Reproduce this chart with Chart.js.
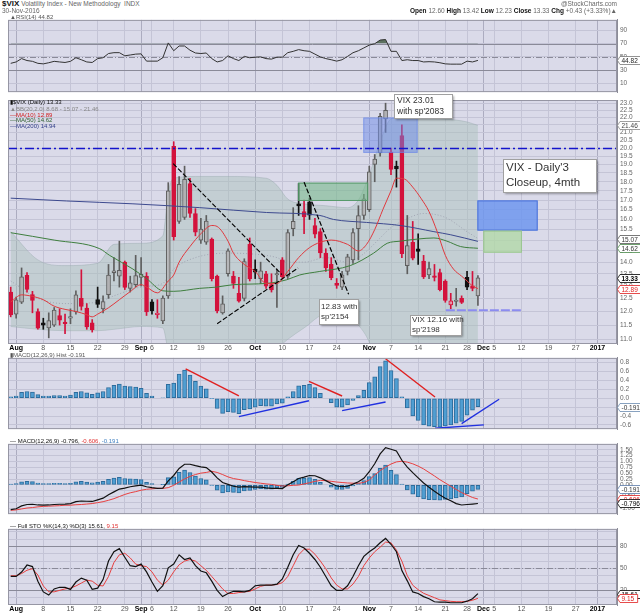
<!DOCTYPE html>
<html>
<head>
<meta charset="utf-8">
<title>$VIX daily</title>
<script src="https://cdn.jsdelivr.net/npm/chart.js@4.4.1/dist/chart.umd.min.js"></script>
<style>
  body { margin: 0; background: #fff; }
  #wrap { position: relative; width: 640px; height: 614px; overflow: hidden; font-family: "Liberation Sans", Arial, sans-serif; }
  canvas { position: absolute; left: 0; }
  .t { position: absolute; font-size: 6.5px; line-height: 7px; color: #666; white-space: nowrap; z-index: 5; }
  .t b { color: #111; }
  .lg { position: absolute; left: 10px; font-size: 6px; line-height: 6px; color: #555; white-space: nowrap; z-index: 5; }
</style>
</head>
<body>
<div id="wrap">
  <canvas id="rsiChart"></canvas>
  <canvas id="histChart"></canvas>
  <canvas id="macdChart"></canvas>
  <canvas id="stoChart"></canvas>
  <canvas id="priceChart"></canvas>

  <div class="t" style="left:2px;top:0px"><b style="font-size:8px">$VIX</b> Volatility Index - New Methodology&nbsp; INDX</div>
  <div class="t" style="left:2px;top:7px">30-Nov-2016</div>
  <div class="t" style="right:23px;top:0px">@StockCharts.com</div>
  <div class="t" style="right:23px;top:7px"><b>Open</b> 12.60 <b>High</b> 13.42 <b>Low</b> 12.23 <b>Close</b> 13.33 <b>Chg</b> +0.43 (+3.33%)&#9650;</div>

  <div class="lg" style="top:14px">&#9650;RSI(14) 44.82</div>
  <div class="lg" style="top:99px;color:#111">&#9646;$VIX (Daily) 13.33</div>
  <div class="lg" style="top:106px;color:#888">&#9650;BB(20,2.0) 8.68 - 15.07 - 21.46</div>
  <div class="lg" style="top:111.5px;color:#d02020">&#8212;MA(10) 12.89</div>
  <div class="lg" style="top:117px;color:#2f5f2f">&#8212;MA(50) 14.62</div>
  <div class="lg" style="top:122.5px;color:#34408a">&#8212;MA(200) 14.94</div>
  <div class="lg" style="top:352px">&#9646;MACD(12,26,9) Hist -0.191</div>
  <div class="lg" style="top:438px"><span style="color:#111">&#8212; MACD(12,26,9) -0.796,</span> <span style="color:#e03030">-0.606,</span> <span style="color:#3f7fc0">-0.191</span></div>
  <div class="lg" style="top:523px"><span style="color:#111">&#8212; Full STO %K(14,3) %D(3) 15.61,</span> <span style="color:#e03030">9.15</span></div>
</div>

<script>
// sessions: index 0 = 29 Jul 2016 ... index 86 = 30 Nov 2016, blank sessions follow
const tickSlots = [1, 6, 11, 16, 21, 24, 26, 30, 35, 40, 45, 50, 55, 60, 66, 70, 75, 80, 84, 87, 89, 94, 99, 104, 108];
const tickLabels = ["Aug", "8", "15", "22", "29", "Sep", "6", "12", "19", "26", "Oct", "10", "17", "24",
  "Nov", "7", "14", "21", "28", "Dec", "5", "12", "19", "27", "2017"];
const monthSlots = [1, 24, 45, 66, 87, 108];

const opens = [12.75, 11.90, 12.35, 13.43, 12.65, 12.00, 11.58, 11.40, 11.50, 11.85,
  11.58, 11.75, 11.98, 12.50, 12.13, 11.58, 12.45, 12.10, 12.65, 13.55,
  13.40, 14.00, 12.90, 13.05, 13.35, 13.40, 12.37, 11.88, 11.65, 12.60,
  20.10, 15.90, 16.10, 17.90, 16.30, 15.00, 14.90, 15.05, 13.40, 11.95,
  13.50, 13.40, 12.70, 12.50, 14.80, 13.70, 13.30, 13.50, 13.05, 13.45,
  14.10, 13.40, 15.55, 16.80, 16.40, 16.90, 15.70, 15.40, 14.40, 13.90,
  13.10, 12.95, 13.60, 14.10, 15.55, 16.20, 16.50, 19.00, 19.70, 21.90,
  19.75, 18.90, 20.80, 13.85, 14.90, 14.60, 14.05, 13.45, 13.40, 13.55,
  13.20, 12.25, 12.38, 12.50, 13.35, 13.00, 12.60];
const highs = [12.95, 12.55, 13.75, 13.55, 12.78, 12.10, 11.75, 11.95, 12.15, 12.10,
  11.90, 12.10, 12.80, 13.67, 12.30, 11.70, 12.95, 12.60, 13.90, 14.20,
  14.95, 14.05, 13.40, 14.30, 14.20, 13.55, 12.45, 12.45, 12.60, 17.95,
  20.40, 18.30, 18.90, 18.20, 16.55, 16.05, 16.20, 15.10, 13.45, 12.60,
  14.60, 13.60, 13.35, 14.15, 15.10, 14.10, 14.00, 13.60, 13.50, 13.70,
  14.20, 15.50, 16.60, 17.90, 17.00, 17.10, 16.05, 15.55, 14.60, 14.20,
  13.30, 13.60, 14.35, 15.55, 16.70, 17.30, 18.90, 19.60, 22.30, 23.01,
  20.00, 19.20, 21.50, 16.20, 15.90, 15.30, 14.30, 14.00, 13.90, 13.70,
  13.25, 12.70, 12.90, 12.60, 13.60, 13.60, 13.42];
const lows = [11.80, 11.75, 12.30, 12.75, 11.95, 11.35, 11.35, 11.05, 11.45, 11.50,
  11.20, 11.55, 11.90, 12.05, 11.35, 11.25, 12.15, 11.95, 12.50, 13.20,
  12.95, 12.85, 12.75, 12.95, 13.00, 11.85, 11.90, 11.75, 11.55, 12.50,
  15.00, 15.80, 16.00, 16.10, 15.20, 14.85, 14.80, 13.20, 11.95, 11.90,
  13.40, 12.90, 12.35, 12.40, 13.20, 13.30, 13.10, 12.90, 12.75, 12.15,
  13.30, 13.30, 15.20, 16.20, 15.30, 16.00, 15.10, 14.20, 13.60, 13.25,
  12.90, 12.85, 13.45, 13.95, 14.10, 16.00, 16.40, 18.00, 19.50, 21.00,
  18.40, 17.70, 14.20, 13.50, 14.10, 13.90, 13.30, 13.30, 13.20, 12.80,
  12.35, 12.10, 12.20, 12.30, 12.85, 12.80, 12.23];
const closes = [11.87, 12.44, 13.37, 12.86, 12.42, 11.39, 11.50, 11.66, 12.05, 11.68,
  11.55, 11.81, 12.64, 12.19, 11.43, 11.34, 12.27, 12.38, 13.45, 13.63,
  13.65, 12.94, 13.12, 13.42, 13.48, 11.98, 12.02, 11.94, 12.51, 17.50,
  15.16, 17.85, 18.14, 16.30, 15.37, 15.53, 15.92, 13.30, 12.02, 12.29,
  14.50, 13.10, 12.39, 14.02, 13.29, 13.57, 13.63, 12.99, 12.84, 13.48,
  13.38, 15.36, 15.91, 16.69, 16.12, 16.21, 15.28, 14.41, 13.75, 13.34,
  13.02, 13.46, 14.24, 15.36, 16.19, 17.06, 18.56, 19.32, 22.08, 22.51,
  18.71, 18.74, 14.38, 14.74, 14.17, 14.48, 13.37, 13.72, 13.35, 12.85,
  12.42, 12.41, 12.43, 12.34, 12.95, 12.90, 13.33];

// overlays (session index, value)
const ma10X = [0, 2, 4, 6, 8, 10, 12, 14, 15, 16, 18, 20, 22, 24, 25, 27, 29, 30, 31, 33, 35, 37, 38, 40, 41, 43, 45, 47, 49, 51,
  53, 55, 57, 59, 62, 64, 65.5, 67, 68.5, 70, 71, 72.5, 74, 75.5, 77, 78.5, 80, 81.5, 83, 84, 85, 86];
const ma10 = [12.36, 12.64, 12.58, 12.45, 12.2, 12.08, 12.0, 11.88, 11.8, 11.9, 12.14, 12.45, 12.77, 13.05, 12.95, 12.72, 13.2, 13.45,
  14.0, 14.7, 15.3, 15.7, 15.65, 14.95, 14.4, 13.9, 13.6, 13.1, 13.1, 13.6, 14.2, 14.65, 14.9, 15.0, 14.8, 14.5, 14.8, 15.5,
  16.5, 17.5, 18.2, 18.15, 17.7, 17.1, 16.4, 15.4, 14.3, 13.7, 13.4, 13.2, 13.0, 12.89];
const ma50X = [0, 8, 16.4, 18.2, 22.5, 25, 28, 30, 34.8, 37.9, 41, 47.1, 50.8, 53.2, 56.9, 62.5, 66.8, 69.3, 71.7, 75, 77.9, 80.3, 82.8, 86];
const ma50 = [15.35, 15.0, 14.6, 14.3, 13.7, 13.3, 12.8, 12.78, 12.9, 12.95, 13.05, 13.1, 13.25, 13.45, 13.6, 13.85, 14.4, 14.85,
  14.95, 15.05, 15.1, 14.95, 14.7, 14.62];
const ma200X = [0, 10.3, 22.5, 34.8, 47.1, 56.9, 59.4, 65.5, 71.7, 77.9, 81, 86];
const ma200 = [17.1, 16.95, 16.8, 16.6, 16.35, 16.2, 16.0, 15.85, 15.7, 15.4, 15.25, 14.94];
const bbX = [0, 5, 10, 16, 19, 24, 28, 29, 30, 34, 40, 47, 49, 51, 54, 58, 62, 64, 66, 68, 70, 72, 76, 80, 84, 86];
const bbUpper = [15.4, 14.1, 13.85, 13.95, 14.8, 14.85, 15.2, 17.4, 18.2, 18.3, 18.3, 18.2, 17.8, 17.05, 16.8, 16.7, 16.6, 17.0,
  18.4, 20.4, 21.9, 22.0, 22.0, 21.9, 21.7, 21.46];
const bbMiddle = [13.2, 12.5, 12.3, 12.35, 12.6, 12.95, 13.1, 13.4, 13.7, 14.2, 14.4, 14.3, 14.2, 14.0, 14.0, 14.2, 14.0, 14.2,
  14.6, 15.1, 15.6, 15.9, 16.3, 16.1, 15.4, 15.07];
const bbLower = [11.45, 11.35, 11.3, 11.3, 11.35, 11.45, 11.4, 10.6, 10.0, 9.9, 10.2, 10.5, 10.7, 11.0, 11.4, 11.9, 11.85, 11.5,
  10.9, 9.8, 9.3, 9.2, 9.0, 8.9, 8.8, 8.68];

const rsi = [40.4, 42.5, 47.5, 44.6, 43.4, 40.4, 39.6, 41.3, 43.4, 42.5,
  41.7, 43.4, 48.8, 45.8, 42.5, 41.7, 47.5, 48.8, 55.1, 56.4,
  56.4, 51.7, 52.9, 54.2, 54.6, 43.7, 43.7, 43.7, 48.8, 71.0,
  59.3, 66.4, 66.4, 60.1, 55.9, 55.1, 55.9, 47.5, 42.5, 44.6,
  51.7, 47.5, 44.6, 50.8, 48.8, 49.6, 50.0, 47.5, 46.7, 49.6,
  49.6, 56.4, 58.4, 61.0, 59.3, 58.4, 54.2, 50.0, 47.5, 45.8,
  43.7, 45.8, 50.8, 56.3, 59.3, 63.5, 67.7, 69.8, 75.3, 76.1,
  58.4, 58.4, 44.6, 45.8, 44.6, 44.6, 42.5, 42.9, 42.5, 41.3,
  39.6, 39.2, 39.2, 39.2, 43.7, 42.5, 44.82];
const macdHist = [0.03, 0.05, 0.13, 0.15, 0.14, 0.08, 0.05, 0.05, 0.06, 0.06,
  0.05, 0.07, 0.13, 0.15, 0.12, 0.09, 0.12, 0.15, 0.24, 0.29,
  0.32, 0.27, 0.26, 0.25, 0.22, 0.11, 0.05, 0.00, 0.01, 0.31,
  0.34, 0.54, 0.63, 0.52, 0.38, 0.27, 0.21, -0.01, -0.23, -0.34,
  -0.30, -0.32, -0.35, -0.26, -0.24, -0.20, -0.17, -0.18, -0.18, -0.13,
  -0.11, 0.03, 0.15, 0.28, 0.29, 0.31, 0.24, 0.11, 0.00, -0.10,
  -0.20, -0.20, -0.15, -0.05, 0.06, 0.18, 0.35, 0.48, 0.71, 0.84,
  0.62, 0.44, 0.03, -0.22, -0.40, -0.50, -0.60, -0.63, -0.64, -0.65,
  -0.62, -0.60, -0.56, -0.52, -0.38, -0.27, -0.191];
const macdLine = [-1.06, -1.02, -0.90, -0.84, -0.83, -0.86, -0.87, -0.86, -0.84, -0.83,
  -0.82, -0.80, -0.72, -0.69, -0.70, -0.71, -0.64, -0.57, -0.42, -0.30,
  -0.18, -0.14, -0.08, -0.04, -0.01, -0.08, -0.12, -0.15, -0.14, 0.17,
  0.40, 0.70, 0.88, 0.88, 0.82, 0.77, 0.74, 0.55, 0.30, 0.10,
  0.02, -0.06, -0.10, -0.08, -0.09, -0.10, -0.10, -0.13, -0.15, -0.15,
  -0.16, 0.00, 0.13, 0.27, 0.33, 0.40, 0.39, 0.30, 0.18, 0.06,
  -0.05, -0.08, -0.06, 0.03, 0.13, 0.28, 0.56, 0.90, 1.32, 1.59,
  1.52, 1.45, 1.05, 0.76, 0.52, 0.30, 0.08, -0.10, -0.27, -0.43,
  -0.57, -0.68, -0.80, -0.86, -0.84, -0.82, -0.796];
const macdSignal = [-1.09, -1.07, -1.03, -0.99, -0.97, -0.94, -0.92, -0.91, -0.90, -0.89,
  -0.87, -0.87, -0.85, -0.84, -0.82, -0.80, -0.76, -0.72, -0.66, -0.59,
  -0.50, -0.41, -0.34, -0.29, -0.23, -0.19, -0.17, -0.15, -0.15, -0.12,
  -0.02, 0.12, 0.25, 0.36, 0.44, 0.50, 0.53, 0.58, 0.53, 0.44,
  0.34, 0.27, 0.23, 0.18, 0.14, 0.10, 0.07, 0.04, 0.02, -0.02,
  -0.05, -0.04, -0.02, -0.01, 0.04, 0.09, 0.15, 0.19, 0.18, 0.15,
  0.12, 0.10, 0.08, 0.07, 0.07, 0.10, 0.21, 0.42, 0.61, 0.76,
  0.89, 0.98, 1.01, 0.97, 0.90, 0.80, 0.68, 0.53, 0.38, 0.22,
  0.08, -0.06, -0.20, -0.33, -0.44, -0.54, -0.606];
const stoK = [39.0, 39.0, 45.0, 54.6, 52.5, 32.6, 17.9, 13.6, 22.0, 24.2,
  24.0, 21.3, 31.4, 36.8, 33.9, 21.3, 23.0, 34.7, 60.1, 72.8,
  77.0, 65.2, 53.7, 52.5, 55.9, 45.3, 31.4, 18.7, 26.3, 50.8,
  55.9, 68.6, 62.2, 64.3, 53.7, 46.5, 44.0, 32.6, 20.0, 11.5,
  15.7, 18.7, 18.7, 17.9, 20.0, 26.3, 27.2, 27.2, 27.2, 28.5,
  35.6, 51.6, 68.6, 81.3, 77.9, 70.7, 62.2, 51.6, 39.0, 26.3,
  20.0, 20.0, 26.3, 39.0, 53.7, 66.4, 72.8, 77.9, 85.0, 91.0,
  83.0, 72.8, 47.0, 33.0, 17.9, 15.7, 11.5, 8.6, 4.4, 4.0,
  4.0, 3.1, 3.1, 3.1, 5.2, 8.6, 15.61];
const stoD = [40.0, 40.0, 43.0, 47.5, 49.6, 41.0, 26.0, 18.0, 18.0, 20.0,
  22.0, 23.0, 26.0, 30.0, 34.0, 32.6, 27.0, 26.0, 39.0, 58.0,
  68.6, 70.7, 64.3, 55.9, 53.7, 52.5, 45.3, 34.0, 27.2, 34.0,
  45.3, 55.0, 60.0, 62.2, 60.0, 53.7, 47.4, 39.0, 30.6, 22.0,
  15.7, 15.7, 17.0, 17.9, 18.7, 22.0, 25.5, 27.2, 27.2, 28.0,
  30.6, 39.0, 53.7, 68.6, 76.2, 76.2, 69.4, 60.0, 49.6, 37.0,
  27.2, 22.0, 22.0, 28.5, 39.0, 53.7, 64.3, 72.8, 79.0, 86.0,
  85.0, 75.0, 60.0, 40.0, 27.0, 21.0, 16.0, 13.0, 10.0, 7.0,
  6.0, 5.0, 4.5, 4.5, 5.0, 6.5, 9.15];

// hand-drawn annotations, in (session index, value) terms
const priceBoxes = [
  { x0: 52.9, x1: 65.8, y0: 16.95, y1: 17.95, fill: "rgba(120,185,140,0.6)", stroke: "rgba(80,150,100,0.9)" },
  { x0: 64.9, x1: 74.9, y0: 19.7, y1: 22.0, fill: "rgba(105,135,232,0.5)", stroke: "rgba(105,135,232,0.6)" },
  { x0: 85.9, x1: 97.0, y0: 15.45, y1: 16.98, fill: "rgba(110,150,238,0.85)", stroke: "#4a70d8" },
  { x0: 87.0, x1: 94.1, y0: 14.42, y1: 15.45, fill: "rgba(178,216,168,0.8)", stroke: "rgba(150,195,140,0.9)" }
];
const priceTrends = [
  { x0: 29.9, y0: 19.05, x1: 49.9, y1: 13.47, color: "#000", w: 1.1, dash: [5, 2] },
  { x0: 38.0, y0: 11.55, x1: 52.9, y1: 13.75, color: "#000", w: 1.1, dash: [5, 2] },
  { x0: 54.0, y0: 17.98, x1: 62.2, y1: 12.66, color: "#000", w: 1.2, dash: [5, 2] },
  { x0: 80.1, y0: 12.05, x1: 93.9, y1: 12.05, color: "#8c8cf0", w: 2, dash: [9, 2] }
];
const priceNotes = [
  { x0: 70.6, x1: 81.2, y0: 23.65, y1: 22.0, lines: ["VIX 23.01", "with sp'2083"], size: 8.5, lh: 11, pad: 3 },
  { x0: 90.7, x1: 107.8, y0: 19.33, y1: 17.45, lines: ["VIX - Daily'3", "Closeup, 4mth"], size: 11.5, lh: 14.6, pad: 3 },
  { x0: 56.8, x1: 64.0, y0: 12.48, y1: 11.55, lines: ["12.83 with", "sp'2154"], size: 8, lh: 10, pad: 2 },
  { x0: 73.5, x1: 82.9, y0: 11.87, y1: 11.15, lines: ["VIX 12.16 with", "sp'2198"], size: 8, lh: 10, pad: 2 }
];
const histTrends = [
  { x0: 32.2, y0: 0.66, x1: 42.0, y1: 0.055, color: "#e02020", w: 1.4 },
  { x0: 42.0, y0: -0.415, x1: 54.9, y1: -0.056, color: "#2030e0", w: 1.4 },
  { x0: 54.9, y0: 0.38, x1: 61.0, y1: 0.05, color: "#e02020", w: 1.4 },
  { x0: 61.0, y0: -0.28, x1: 69.0, y1: -0.086, color: "#2030e0", w: 1.4 },
  { x0: 69.0, y0: 0.887, x1: 78.1, y1: 0.026, color: "#e02020", w: 1.4 },
  { x0: 78.1, y0: -0.675, x1: 87.1, y1: -0.60, color: "#2030e0", w: 1.4 },
  { x0: 83.0, y0: -0.57, x1: 89.9, y1: -0.024, color: "#2030e0", w: 1.4 }
];

const FONT = '"Liberation Sans", Arial, sans-serif';
const PANEL_BG = "#dadae9";
const GRID = "#c4c4d6";
const RED = "#d3123c";
const xMin = -0.5, xMax = 111.6;

function xAxis(show) {
  return {
    type: "linear", min: xMin, max: xMax, offset: false,
    afterBuildTicks: s => { s.ticks = tickSlots.map(v => ({ value: v })); },
    afterFit: s => { s.height = show ? 9 : 0; },
    grid: {
      offset: false, drawTicks: false,
      color: ctx => (ctx.tick && monthSlots.includes(ctx.tick.value)) ? "#acacc0" : GRID
    },
    border: { display: false },
    ticks: {
      display: show, autoSkip: false, maxRotation: 0, padding: 0,
      color: ctx => (ctx.tick && monthSlots.includes(ctx.tick.value)) ? "#000" : "#555",
      font: ctx => ({ size: 7, family: FONT, weight: (ctx.tick && monthSlots.includes(ctx.tick.value)) ? "bold" : "normal" }),
      callback: (v, i) => tickLabels[i]
    }
  };
}

function yAxis(c) {
  return {
    type: c.type || "linear", position: "right", min: c.min, max: c.max,
    afterBuildTicks: s => { s.ticks = c.ticks.map(v => ({ value: v })); },
    afterFit: s => { s.width = 23; },
    grid: { color: GRID, drawTicks: false },
    border: { display: true, color: "#8c8c98" },
    ticks: { autoSkip: false, padding: 3, color: "#666", font: { size: 6.5, family: FONT }, callback: v => c.fmt(v) }
  };
}

function decoPlugin(d) {
  return {
    id: "deco",
    beforeDraw(chart) {
      const { ctx, chartArea: a } = chart;
      ctx.save();
      ctx.fillStyle = PANEL_BG;
      ctx.fillRect(a.left, a.top, a.width, a.height);
      ctx.restore();
    },
    beforeDatasetsDraw(chart) {
      const { ctx, chartArea: a } = chart;
      const y = chart.scales.y;
      ctx.save();
      (d.refs || []).forEach(r => {
        const py = Math.round(y.getPixelForValue(r.v)) + 0.5;
        ctx.strokeStyle = r.color;
        ctx.lineWidth = r.w || 1;
        ctx.setLineDash(r.dash || []);
        ctx.beginPath(); ctx.moveTo(a.left, py); ctx.lineTo(a.right, py); ctx.stroke();
      });
      ctx.restore();
    },
    afterDatasetsDraw(chart) {
      const { ctx, chartArea: a } = chart;
      const x = chart.scales.x, y = chart.scales.y;
      ctx.save();
      ctx.beginPath(); ctx.rect(a.left, a.top, a.width, a.height); ctx.clip();
      (d.rects || []).forEach(r => {
        const x0 = x.getPixelForValue(r.x0), x1 = x.getPixelForValue(r.x1);
        const y0 = y.getPixelForValue(r.y1), y1 = y.getPixelForValue(r.y0);
        ctx.fillStyle = r.fill;
        ctx.fillRect(x0, y0, x1 - x0, y1 - y0);
        ctx.strokeStyle = r.stroke; ctx.lineWidth = 1;
        ctx.strokeRect(x0 + 0.5, y0 + 0.5, x1 - x0 - 1, y1 - y0 - 1);
      });
      (d.levels || []).forEach(r => {
        const py = Math.round(y.getPixelForValue(r.v)) + 0.5;
        ctx.strokeStyle = r.color; ctx.lineWidth = r.w || 1; ctx.setLineDash(r.dash || []);
        ctx.beginPath(); ctx.moveTo(a.left, py); ctx.lineTo(a.right, py); ctx.stroke();
      });
      (d.segs || []).forEach(s => {
        ctx.strokeStyle = s.color; ctx.lineWidth = s.w || 1; ctx.setLineDash(s.dash || []);
        ctx.beginPath();
        ctx.moveTo(x.getPixelForValue(s.x0), y.getPixelForValue(s.y0));
        ctx.lineTo(x.getPixelForValue(s.x1), y.getPixelForValue(s.y1));
        ctx.stroke();
      });
      ctx.restore();
    },
    afterDraw(chart) {
      const { ctx, chartArea: a } = chart;
      const x = chart.scales.x, y = chart.scales.y;
      ctx.save();
      ctx.setLineDash([]);
      ctx.strokeStyle = "#9696a4"; ctx.lineWidth = 1;
      ctx.strokeRect(a.left + 0.5, a.top + 0.5, a.width - 1, a.height - 1);
      (d.notes || []).forEach(n => {
        const x0 = Math.round(x.getPixelForValue(n.x0)), x1 = Math.round(x.getPixelForValue(n.x1));
        const y0 = Math.round(y.getPixelForValue(n.y0)), y1 = Math.round(y.getPixelForValue(n.y1));
        ctx.save();
        ctx.shadowColor = "rgba(0,0,0,0.35)"; ctx.shadowOffsetX = 2; ctx.shadowOffsetY = 2; ctx.shadowBlur = 2;
        ctx.fillStyle = "#fff"; ctx.fillRect(x0, y0, x1 - x0, y1 - y0);
        ctx.restore();
        ctx.strokeStyle = "#a0a0a0"; ctx.lineWidth = 1;
        ctx.strokeRect(x0 + 0.5, y0 + 0.5, x1 - x0, y1 - y0);
        ctx.fillStyle = "#333"; ctx.font = n.size + "px " + FONT;
        ctx.textBaseline = "middle"; ctx.textAlign = "left";
        const first = y0 + ((y1 - y0) - (n.lines.length - 1) * n.lh) / 2;
        n.lines.forEach((t, i) => ctx.fillText(t, x0 + n.pad, first + i * n.lh));
      });
      (d.boxes || []).forEach(b => {
        const py = Math.round(y.getPixelForValue(b.v)) + 0.5;
        const bx = a.right + 0.5;
        ctx.font = (b.bold ? "bold " : "") + "6.5px " + FONT;
        const w = Math.min(22, ctx.measureText(b.label).width + 5);
        ctx.beginPath();
        ctx.moveTo(bx, py);
        ctx.lineTo(bx + 2.5, py - 4); ctx.lineTo(bx + 2.5 + w, py - 4);
        ctx.lineTo(bx + 2.5 + w, py + 4); ctx.lineTo(bx + 2.5, py + 4);
        ctx.closePath();
        ctx.fillStyle = "#fff"; ctx.fill();
        ctx.strokeStyle = b.color; ctx.lineWidth = 0.8; ctx.stroke();
        ctx.fillStyle = b.text || b.color;
        ctx.textBaseline = "middle"; ctx.textAlign = "left";
        ctx.fillText(b.label, bx + 4, py + 0.5);
      });
      ctx.restore();
    }
  };
}

function makeChart(id, top, height, padTop, showX, yCfg, datasets, deco) {
  const cv = document.getElementById(id);
  cv.width = 640; cv.height = height;
  cv.style.top = top + "px";
  return new Chart(cv, {
    type: "bar",
    data: { datasets },
    options: {
      responsive: false, animation: false, events: [],
      layout: { padding: { left: 8, right: 0, top: padTop, bottom: 0 }, autoPadding: false },
      plugins: { legend: { display: false }, tooltip: { enabled: false } },
      scales: { x: xAxis(showX), y: yAxis(yCfg) }
    },
    plugins: [decoPlugin(deco)]
  });
}

const pts = (xs, ys) => xs.map((x, i) => ({ x, y: ys[i] }));
const series = ys => ys.map((y, i) => ({ x: i, y }));
const lineDs = (data, color, w, extra) => Object.assign({
  type: "line", data, borderColor: color, borderWidth: w, pointRadius: 0, fill: false, tension: 0
}, extra || {});

// candle colours: hollow when close > open, red when close < previous close
const isUp = i => closes[i] > opens[i];
const isDown = i => i === 0 || closes[i] < closes[i - 1];
const edgeColor = i => isDown(i) ? RED : (isUp(i) ? "#5e5e5e" : "#111");
const bodyColor = i => isUp(i) ? "rgba(246,246,250,0.55)" : (isDown(i) ? RED : "#111");

// RSI panel
makeChart("rsiChart", 13, 86, 0, false,
  { min: -2.7, max: 105.5, ticks: [10, 30, 50, 70, 90], fmt: v => String(v) },
  [lineDs(series(rsi), "#333", 1, { fill: { value: 70, above: "rgba(70,95,70,0.85)", below: "rgba(0,0,0,0)" } })],
  {
    refs: [{ v: 70, color: "#8a8a98" }, { v: 30, color: "#8a8a98" }, { v: 50, color: "#8a8a98", dash: [6, 2, 1, 2] }],
    boxes: [{ v: 44.82, label: "44.82", color: "#777", text: "#222" }]
  });

// price panel
const priceTicks = [];
for (let k = 22; k <= 46; k++) priceTicks.push(k / 2);
makeChart("priceChart", 88, 265, 12, true,
  { type: "logarithmic", min: 10.84, max: 23.24, ticks: priceTicks, fmt: v => v.toFixed(1) },
  [
    lineDs(pts(ma10X, ma10), "#e0393e", 1, { order: 0, cubicInterpolationMode: "monotone" }),
    lineDs(pts(ma50X, ma50), "#3f7f3f", 1, { order: 0, cubicInterpolationMode: "monotone" }),
    lineDs(pts(ma200X, ma200), "#3d4a8f", 1, { order: 0, cubicInterpolationMode: "monotone" }),
    {
      type: "bar", order: 1, grouped: false, barThickness: 4, borderWidth: 1, borderSkipped: false, minBarLength: 1.5,
      data: opens.map((o, i) => ({ x: i, y: [o, closes[i]] })),
      backgroundColor: opens.map((o, i) => bodyColor(i)),
      borderColor: opens.map((o, i) => edgeColor(i))
    },
    {
      type: "bar", order: 2, grouped: false, barThickness: 1, borderWidth: 0,
      data: lows.map((l, i) => ({ x: i, y: [l, highs[i]] })),
      backgroundColor: lows.map((l, i) => edgeColor(i))
    },
    lineDs(pts(bbX, bbMiddle), "#a2a6b4", 1, { order: 3, borderDash: [1, 2], cubicInterpolationMode: "monotone" }),
    lineDs(pts(bbX, bbUpper), "rgba(150,165,170,0.7)", 0.6,
      { order: 4, fill: "+1", backgroundColor: "rgba(165,190,180,0.42)", cubicInterpolationMode: "monotone" }),
    lineDs(pts(bbX, bbLower), "rgba(150,165,170,0.7)", 0.6, { order: 4, cubicInterpolationMode: "monotone" })
  ],
  {
    rects: priceBoxes,
    levels: [{ v: 20, color: "#1414cc", w: 1.6, dash: [9, 3, 2, 3] }],
    segs: priceTrends,
    notes: priceNotes,
    boxes: [
      { v: 21.46, label: "21.46", color: "#888", text: "#444" },
      { v: 15.07, label: "15.07", color: "#555", text: "#333" },
      { v: 14.62, label: "14.62", color: "#4a8a4a", text: "#333" },
      { v: 13.33, label: "13.33", color: "#000", text: "#000", bold: true },
      { v: 12.89, label: "12.89", color: "#e02020", text: "#e02020" }
    ]
  });

// MACD histogram panel
const histBars = extra => Object.assign({
  type: "bar", grouped: false, barThickness: 4, borderWidth: 1, borderSkipped: false,
  data: series(macdHist), backgroundColor: "#4f9ed2", borderColor: "#2d6c9c"
}, extra || {});
makeChart("histChart", 351, 85, 0, false,
  { min: -0.694, max: 0.906, ticks: [-0.6, -0.4, -0.2, 0, 0.2, 0.4, 0.6, 0.8], fmt: v => v.toFixed(1) },
  [histBars()],
  {
    segs: histTrends,
    boxes: [{ v: -0.191, label: "-0.191", color: "#6a8ab0", text: "#333" }]
  });

// MACD panel
makeChart("macdChart", 437, 84, 0, false,
  { min: -1.25, max: 1.75, ticks: [-1, -0.75, -0.5, -0.25, 0, 0.25, 0.5, 0.75, 1, 1.25, 1.5], fmt: v => v.toFixed(2) },
  [
    lineDs(series(macdLine), "#111", 1.2, { order: 0 }),
    lineDs(series(macdSignal), "#e84040", 1, { order: 1 }),
    histBars({ order: 2 })
  ],
  {
    boxes: [
      { v: -0.191, label: "-0.191", color: "#5a7aa8", text: "#333" },
      { v: -0.606, label: "-0.606", color: "#e02020", text: "#e02020" },
      { v: -0.796, label: "-0.796", color: "#000", text: "#000" }
    ]
  });

// slow stochastic panel
makeChart("stoChart", 522, 92, 0, true,
  { min: 0, max: 104, ticks: [10, 20, 30, 40, 50, 60, 70, 80, 90, 100], fmt: v => (v === 20 || v === 50 || v === 80) ? String(v) : "" },
  [
    lineDs(series(stoK), "#111", 1.2, { order: 0 }),
    lineDs(series(stoD), "#e84040", 1, { order: 1 })
  ],
  {
    refs: [{ v: 80, color: "#8a8a98" }, { v: 20, color: "#8a8a98" }, { v: 50, color: "#8a8a98", dash: [6, 2, 1, 2] }],
    boxes: [
      { v: 15.61, label: "15.61", color: "#000", text: "#000" },
      { v: 9.15, label: "9.15", color: "#e02020", text: "#e02020" }
    ]
  });
</script>
</body>
</html>
